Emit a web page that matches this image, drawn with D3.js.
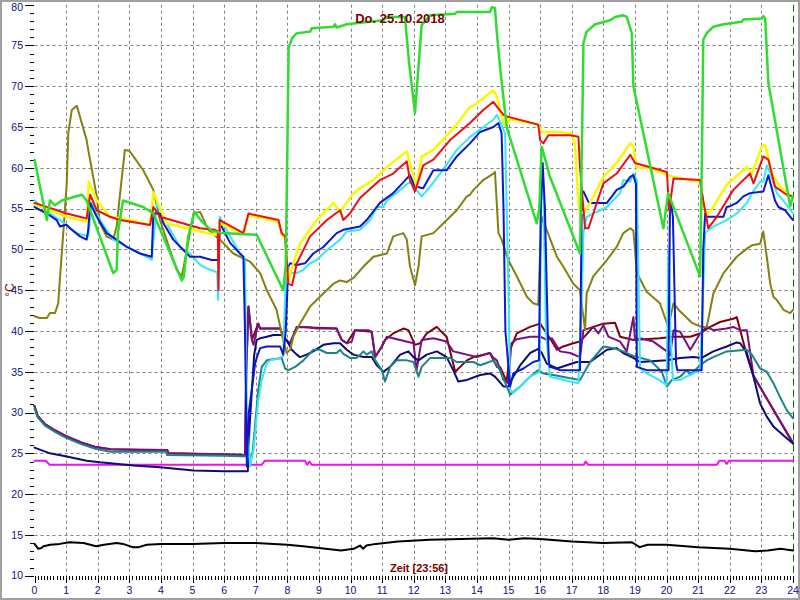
<!DOCTYPE html>
<html><head><meta charset="utf-8">
<script src="https://cdn.jsdelivr.net/npm/d3@7/dist/d3.min.js"></script>
<style>body{margin:0;background:#fff}svg{display:block}</style>
</head><body>
<svg id="c" width="800" height="600"></svg>
<script>
const title = "Do. 25.10.2018";
const xTitle = "Zeit [23:56]";
const yTitle = "°C";
const xTicks = d3.range(0, 25);
const yTicks = d3.range(10, 81, 5);

const green = [[0,61],[0.39,53.6],[0.49,56],[0.65,55.4],[0.86,56],[1.5,56.7],[1.65,56],[2.49,47.1],[2.6,47.5],[2.64,52],[2.8,56],[3.44,55.2],[3.76,54.4],[4.66,46.2],[4.72,46.6],[4.86,51.5],[5.06,54.6],[5.3,53.4],[5.6,52.3],[5.92,52],[7.03,51.8],[7.87,45.0],[7.95,48],[8.0,62],[8.04,74.7],[8.15,75.9],[8.3,76.5],[8.72,76.7],[8.77,77.1],[9.46,77.3],[9.51,77.6],[9.56,77.2],[9.88,77.6],[11.03,78.1],[11.15,78.5],[11.72,78.5],[11.85,73],[12.04,66.7],[12.2,75],[12.25,77.5],[12.52,78.7],[13.31,78.9],[13.36,79.1],[14.41,79.1],[14.47,79.7],[14.57,79.6],[14.63,76.5],[14.73,72.4],[14.94,65],[15.89,53.2],[15.97,55],[16.05,62.6],[16.31,58.9],[17.26,49.5],[17.33,65],[17.37,75.3],[17.47,76.7],[17.74,77.6],[18.21,78.1],[18.37,78.5],[18.63,78.7],[18.74,78.5],[18.9,76.5],[18.95,70],[19.9,52.6],[20.05,56.9],[21.06,46.7],[21.12,62],[21.16,75.7],[21.27,76.5],[21.48,77.3],[21.8,77.6],[22.38,77.9],[22.43,78.2],[23.01,78.3],[23.06,78.6],[23.12,78.3],[23.22,70.4],[23.91,55.3],[24,56.5]];

const yellow = [[0,55.5],[0.5,54.8],[1.02,54.0],[1.65,53.4],[1.72,58.3],[1.97,56],[2.39,54],[3.0,53.6],[3.66,53.0],[3.76,57],[4.18,53.2],[5.24,52.2],[5.71,51.8],[5.81,51.8],[5.87,53.2],[6.61,51.8],[6.77,54.2],[7.72,53.4],[7.82,51.8],[7.93,51.4],[8.03,46],[8.19,48.3],[8.4,50.7],[8.93,53.6],[9.46,55.7],[9.67,54.6],[10.09,56.9],[10.3,57.5],[10.72,58.5],[11.15,60.1],[11.57,61.4],[11.78,62],[11.88,60.6],[12.09,57.7],[12.25,61.4],[12.62,62.2],[13.25,64.8],[13.78,67.5],[13.89,67.6],[14.52,69.5],[14.63,68.7],[14.84,65.5],[14.94,65.0],[15.0,66.0],[15.94,65.3],[16.05,64.4],[16.63,64.4],[17.0,64.2],[17.1,63],[17.21,55.7],[17.26,54.4],[17.4,54.6],[17.58,55.7],[18.0,58.9],[18.42,60.6],[18.85,63],[18.95,62.6],[19.06,60],[19.37,60],[20.0,59.2],[20.2,58.9],[21.06,58.3],[21.16,55.2],[21.32,54.4],[21.48,55.2],[21.9,57.9],[22.54,60.1],[22.7,59.3],[23.01,62.6],[23.12,62.8],[23.33,59.3],[23.59,57.7],[23.91,56.7],[24,56.5]];

const red = [[0,55.7],[1.02,54.4],[1.65,53.8],[1.76,56.7],[1.97,54.8],[2.39,54],[2.71,53.6],[3.66,53],[3.76,55.2],[3.97,54],[5.24,52.6],[5.71,52.4],[5.8,52.2],[5.82,45],[5.86,53.6],[6.61,52],[6.77,54.4],[7.72,53.6],[7.82,52],[7.93,51.6],[8.03,45.8],[8.15,45.6],[8.3,48.3],[8.72,51.6],[9.25,53.6],[9.67,54.8],[9.77,53.6],[9.98,54.4],[10.3,56.3],[10.93,58.5],[11.35,59.3],[11.78,60.8],[11.88,58.5],[12.04,57.1],[12.3,60.3],[12.62,61],[13.15,63.4],[13.78,65.5],[14.2,67.1],[14.52,68.1],[14.63,67.5],[14.84,66.5],[14.94,66.3],[15.94,65.3],[16.0,63.4],[16.1,63],[16.26,64],[16.95,64],[17.21,63.8],[17.26,60.1],[17.42,52.6],[17.53,52.6],[17.68,54.4],[18.0,58.1],[18.42,59.3],[18.85,61.6],[19.0,60.6],[20.01,59.5],[20.08,54.8],[20.22,58.7],[21.06,58.5],[21.16,56],[21.32,52.6],[21.59,54],[22.11,57.3],[22.64,59.3],[22.75,58.1],[23.06,61.4],[23.22,61],[23.43,57.7],[23.8,56.7],[24,56.5]];

const cyan = [[0,56],[0.39,54.6],[0.81,53.6],[1.34,52],[1.7,51.6],[1.81,55.7],[2.07,53.6],[2.49,51.2],[3.13,49.9],[3.55,49.1],[3.71,48.7],[3.87,55.7],[4.18,53.2],[4.6,50.3],[4.92,49.5],[5.24,48.1],[5.55,47.5],[5.78,47.2],[5.81,43.8],[5.86,54],[6.19,51.6],[6.5,49.5],[6.66,48.7],[6.72,30],[6.82,23.4],[6.93,25.4],[7.08,31.5],[7.19,34],[7.35,36],[7.45,36.4],[7.77,36.7],[7.87,37],[7.95,46.5],[8.09,47.1],[8.3,47.1],[8.51,47.5],[8.72,48.3],[8.93,48.7],[9.25,49.9],[9.67,51.2],[9.88,52.2],[10.3,52.4],[10.62,53.6],[10.83,55.2],[11.04,55.2],[11.15,56],[11.57,57.3],[11.88,58.3],[12.04,57.5],[12.25,56.5],[12.52,57.7],[12.83,59.3],[13.15,61],[13.36,62.2],[13.78,63.8],[14.2,65],[14.52,65.9],[14.63,66.5],[14.73,65.7],[14.89,64.2],[14.97,50],[15.05,32.8],[15.15,32.4],[15.37,33.2],[15.68,34.4],[15.98,35],[16.03,57],[16.1,57.5],[16.18,40],[16.31,34.4],[16.53,34.2],[16.95,33.8],[17.21,33.6],[17.3,42],[17.37,52],[17.47,54],[17.68,54.4],[17.9,54.8],[18.11,55.2],[18.53,56.9],[18.63,58.5],[18.85,58.3],[18.95,59.3],[19.06,58.5],[19.12,45],[19.16,35.4],[19.37,34.8],[19.68,34.2],[20.0,33.4],[20.06,50],[20.12,40],[20.2,34],[20.43,34],[20.85,34.8],[21.06,35.2],[21.16,45],[21.22,52],[21.32,52.4],[21.48,52.8],[21.9,53.6],[22.22,54.4],[22.54,55.7],[22.7,56.9],[22.96,58.3],[23.06,58.3],[23.17,60.3],[23.28,59.3],[23.49,56.9],[23.75,55.7],[24,54.4]];

const blue = [[0,55.2],[0.39,54.4],[0.7,53.6],[0.81,52.8],[0.97,53],[1.02,53],[1.12,52.6],[1.44,51.6],[1.65,51.2],[1.7,52.4],[1.76,55.7],[1.97,54],[2.28,52],[2.6,51.2],[2.92,50.3],[3.34,49.5],[3.71,49.1],[3.76,54.4],[3.97,54.4],[4.08,53.2],[4.39,51.2],[4.82,49.5],[4.92,49.1],[5.24,49.1],[5.61,48.7],[5.8,48.7],[5.87,53.2],[6.19,50.8],[6.5,49.5],[6.61,49.1],[6.66,40],[6.72,23.4],[6.78,30],[6.98,36],[7.03,36.7],[7.14,37.9],[7.35,38.1],[7.77,38.1],[7.87,37.1],[7.95,40],[8.03,47.9],[8.09,48.3],[8.3,48.1],[8.56,48.3],[8.82,49.5],[9.14,50.3],[9.56,52],[9.77,52.4],[10.3,52.8],[10.51,53.6],[10.93,55.7],[11.35,56.9],[11.88,59.1],[12.04,57.7],[12.3,57.5],[12.62,59.7],[13.04,59.7],[13.36,61.4],[13.78,63],[14.1,64.4],[14.52,65],[14.68,65.5],[14.78,64.2],[14.84,55],[14.9,40],[15.05,33.2],[15.15,34.8],[15.47,35.4],[15.78,36.2],[15.96,36.4],[16.02,55],[16.08,60.6],[16.15,55],[16.24,40],[16.28,36],[16.31,35.6],[16.63,35.2],[17.26,35.2],[17.32,56.9],[17.37,57.1],[17.53,55.8],[17.58,55.7],[18.11,55.7],[18.27,56.5],[18.42,57.3],[18.63,57.7],[18.85,58.9],[18.95,59.1],[19.03,58],[19.06,35.6],[19.37,35.2],[20.06,35.2],[20.11,56.5],[20.2,54],[20.3,36],[20.34,35.2],[20.85,35.2],[21.11,35.2],[21.16,50],[21.22,54.4],[21.27,54],[21.8,54],[21.9,55.2],[22.01,55.3],[22.22,55.7],[22.43,56.5],[22.64,56.9],[23.06,57.1],[23.22,59.1],[23.43,56],[23.54,55.2],[23.75,54.8],[24,53.6]];

const olive = [[0,41.8],[0.17,41.6],[0.39,41.6],[0.49,42.2],[0.65,42.2],[0.75,43.4],[0.81,46.7],[0.91,52],[1.02,58.1],[1.07,64.3],[1.18,67.1],[1.34,67.6],[1.65,63.4],[1.7,62.2],[1.97,56.5],[2.07,53.2],[2.28,51.6],[2.49,51.2],[2.6,52.8],[2.71,56.9],[2.86,62.2],[3.0,62.1],[3.13,61.4],[3.44,59.7],[3.76,57.3],[3.97,53.6],[4.29,49.9],[4.5,47.5],[4.66,46.7],[4.82,49.9],[5.03,54.4],[5.24,54.6],[5.5,52.4],[5.87,51.2],[6.29,49.5],[6.82,48.5],[7.14,47.1],[7.35,45],[7.66,42.6],[7.82,39.7],[7.98,37.3],[8.09,37.7],[8.19,39.3],[8.4,40.9],[8.72,43],[9.03,44.2],[9.46,45.8],[9.67,46.2],[9.88,46.0],[10.09,46.5],[10.41,47.9],[10.62,48.7],[10.72,49.1],[11.15,49.5],[11.35,51.6],[11.67,52],[11.78,51.2],[11.88,47.9],[12.04,45.6],[12.15,47.9],[12.25,51.6],[12.62,52],[12.94,53.2],[13.36,54.8],[13.68,56.5],[13.78,56.7],[13.89,57.3],[14.2,58.5],[14.52,59.3],[14.57,59.5],[14.68,52],[14.78,51.2],[14.99,48.7],[15.26,46.7],[15.58,44.2],[15.78,43.4],[15.94,43.2],[16.0,50],[16.05,54],[16.53,49.1],[16.73,47.9],[17.05,45.8],[17.26,45],[17.42,40.1],[17.47,44.6],[17.68,46.7],[18.11,48.7],[18.42,50.3],[18.63,52],[18.85,52.6],[18.95,52.3],[19.06,47.1],[19.37,44.8],[19.79,43.4],[20.05,40.5],[20.22,43.4],[20.4,42.5],[20.8,41],[21.1,40.5],[21.27,40.5],[21.38,42.6],[21.48,44.6],[21.8,47.1],[22.22,49.1],[22.54,50.1],[22.7,50.5],[22.96,50.7],[23.06,52.2],[23.17,49.1],[23.28,45.8],[23.38,44.2],[23.49,43.8],[23.7,42.6],[23.91,42.2],[24,42.6]];

const purple = [[0,30.8],[0.1,29.6],[0.33,28.6],[0.66,27.8],[1.0,27.1],[1.5,26.3],[1.9,25.8],[2.4,25.5],[3.3,25.4],[4.2,25.4],[4.25,25.0],[6.0,24.9],[6.66,24.8],[6.7,35],[6.77,43],[6.88,38.9],[6.93,38.3],[7.08,40.9],[7.14,40.3],[7.77,40.3],[7.93,38.9],[8.09,38.5],[8.3,40.5],[8.61,40.5],[8.93,40.3],[9.56,40.3],[9.72,38.9],[9.88,38.5],[10.04,38.7],[10.14,40.1],[10.56,40.1],[10.67,39.9],[10.78,36.8],[10.99,38.1],[11.15,39.3],[11.57,38.9],[11.99,38.5],[12.09,35.2],[12.25,38.9],[12.62,39.1],[13.04,38.7],[13.25,37.5],[13.47,37.3],[13.68,37.1],[13.99,36.8],[14.41,37.3],[14.52,36.7],[14.63,36.4],[14.84,34],[14.99,33.6],[15.09,38.5],[15.26,39],[15.68,39.3],[16.0,39.3],[16.21,38.9],[16.37,39.1],[16.63,37.5],[16.95,37.3],[17.26,36.8],[17.37,40.1],[17.68,40.5],[17.84,39.7],[18.0,40.7],[18.16,39.3],[18.53,38.7],[18.74,37.5],[18.95,41.7],[19.0,38.9],[19.16,39.1],[19.58,38.7],[20.01,37.5],[20.11,37],[20.22,40.1],[20.43,39.9],[20.75,37.7],[21.06,39.7],[21.27,40.5],[21.48,40.1],[21.9,40.3],[22.11,40.5],[22.33,40.1],[22.54,40.1],[22.64,37.5],[22.75,34.5],[24,26.3]];

const maroon = [[0,30.8],[0.1,29.6],[0.33,28.6],[0.66,27.8],[1.0,27.1],[1.5,26.3],[1.9,25.8],[2.4,25.5],[4.2,25.4],[4.25,25.0],[6.66,24.8],[6.7,35],[6.77,43],[6.88,38.9],[7.08,40.9],[7.14,40.3],[7.77,40.3],[7.93,38.9],[8.09,38.5],[8.3,40.5],[9.56,40.3],[9.72,38.9],[9.88,38.5],[10.14,40.1],[10.67,39.9],[10.78,36.8],[10.99,38.1],[11.09,38.9],[11.35,39.7],[11.67,40.3],[11.83,40.1],[12.04,38.3],[12.2,38.5],[12.41,39.7],[12.73,40.5],[12.83,40.1],[13.04,39.3],[13.31,35],[13.47,35.6],[13.68,36.4],[13.89,36.8],[14.2,37.1],[14.41,37.3],[14.63,35.6],[14.73,35.6],[14.94,33.8],[15.05,37.7],[15.26,39.7],[15.68,40.5],[16.0,40.9],[16.1,40.3],[16.31,39.1],[16.53,37.7],[16.73,38.1],[17.05,38.5],[17.26,38.7],[17.68,40.5],[18.0,40.9],[18.37,41],[18.53,39.3],[18.95,38.9],[19.79,39.1],[20.22,39.3],[20.75,39.3],[21.06,39.7],[21.38,40.5],[21.69,41.1],[22.11,41.5],[22.22,41.7],[22.33,40.1],[22.54,37],[22.75,34.5],[24,26.2]];

const navy = [[0,25.7],[0.49,25],[1.02,24.6],[1.65,24.1],[2.07,23.9],[3.13,23.5],[3.97,23.3],[5.03,22.9],[6.0,22.8],[6.75,22.8],[6.8,28],[6.95,37],[7.03,38.9],[7.14,39.1],[7.35,39.3],[7.56,39.5],[7.82,39.5],[7.98,38.9],[8.14,37.7],[8.3,37.1],[8.4,36.8],[8.61,37.1],[8.82,37.5],[9.14,38.3],[9.46,38.5],[9.67,38.5],[9.88,37.7],[10.09,37.1],[10.41,36.8],[10.67,36.8],[10.83,35.8],[11.04,35],[11.25,35.6],[11.57,37.1],[11.83,37.5],[11.99,36.8],[12.15,36.4],[12.41,37.1],[12.73,37.5],[13.04,36.8],[13.25,35.2],[13.41,33.8],[13.68,34],[14.1,34.6],[14.41,34.8],[14.57,34.4],[14.84,33.2],[14.99,33.2],[15.15,34.4],[15.37,35.8],[15.68,37.3],[15.94,37.8],[16.05,37.3],[16.21,36],[16.53,35.4],[16.84,35.8],[17.16,36.2],[17.58,36.2],[18.11,37.7],[18.42,37.9],[18.63,37.3],[18.95,36.7],[19.16,36.2],[20.01,36.4],[20.43,36.7],[20.85,36.8],[21.11,36.7],[21.48,37.5],[21.9,38.1],[22.22,38.6],[22.33,38.5],[22.54,37.3],[22.75,34.4],[22.96,31.1],[23.17,29.5],[23.38,28.3],[23.7,27.2],[24,26.2]];

const teal = [[0,30.5],[0.1,29.4],[0.33,28.4],[0.66,27.6],[1.0,26.9],[1.5,26.1],[1.9,25.6],[2.4,25.2],[4.15,25.2],[4.2,24.8],[6.0,24.7],[6.82,24.6],[6.9,25],[7.08,32.8],[7.19,35.6],[7.35,36.4],[7.82,36.7],[7.93,35.4],[8.03,35.2],[8.25,35.6],[8.51,36.4],[8.82,37.7],[9.03,37.7],[9.25,37.3],[9.56,37.3],[9.67,37.7],[9.77,37.2],[9.98,36.7],[10.19,36.7],[10.41,37.5],[10.51,37.1],[10.67,37.5],[10.78,36.4],[10.99,35.2],[11.09,33.8],[11.25,35.6],[11.46,36.4],[11.78,36.4],[11.99,36.2],[12.15,34.4],[12.25,35.6],[12.52,36.7],[13.15,36.7],[13.36,36.2],[13.89,36.2],[14.1,35.8],[14.52,36.4],[14.73,35.2],[15.05,32.2],[15.37,33.2],[15.68,34.4],[15.94,35.2],[16.1,34.8],[16.42,34.6],[16.95,34.2],[17.26,34],[17.58,36.2],[18.0,38.1],[18.32,37.9],[18.63,37.5],[18.85,37.1],[19.06,36.8],[19.48,36.4],[19.85,35],[20.01,33.2],[20.17,34],[20.43,34.4],[20.64,35.2],[20.75,34.6],[21.06,35.8],[21.27,36.4],[21.48,36.8],[21.9,37.5],[22.54,37.7],[22.7,37.1],[22.96,35.4],[23.17,35],[23.38,33.6],[23.59,31.9],[23.8,30.3],[23.96,29.5],[24,29.3]];

const magenta = [[0,24.1],[0.35,24.1],[0.48,23.6],[7.19,23.6],[7.29,24.1],[8.56,24.1],[8.63,23.6],[8.7,24.0],[8.77,23.6],[17.38,23.6],[17.44,24.0],[17.52,23.6],[21.59,23.6],[21.67,24.1],[21.83,24.1],[21.9,23.7],[21.98,24.1],[24,24.1]];

const black = [[0,13.9],[0.12,13.3],[0.22,13.4],[0.28,13.6],[0.5,13.8],[0.8,13.9],[1.1,14.1],[1.55,14.0],[1.95,13.6],[2.2,13.8],[2.6,14.0],[2.8,13.9],[3.1,13.5],[3.3,13.5],[3.55,13.8],[4.0,13.9],[5.0,13.9],[6.0,14.0],[7.0,14.0],[8.0,13.8],[8.5,13.6],[9.0,13.4],[9.7,13.1],[10.1,13.3],[10.3,13.7],[10.4,13.3],[10.5,13.7],[10.8,13.9],[11.5,14.2],[12.5,14.4],[13.5,14.5],[14.5,14.6],[15.0,14.4],[15.5,14.6],[16.0,14.5],[17.0,14.2],[18.0,14.0],[18.9,14.1],[19.15,13.5],[19.4,13.8],[20.0,13.8],[21.0,13.5],[22.0,13.3],[22.8,13.0],[23.2,13.1],[23.6,13.3],[24,13.1]];

const series = [
  {d: black, c: "#000000", w: 2},
  {d: magenta, c: "#ee10ee", w: 2},
  {d: maroon, c: "#800010", w: 2},
  {d: purple, c: "#7a1080", w: 2},
  {d: navy, c: "#0c0c78", w: 2},
  {d: teal, c: "#1a8585", w: 2},
  {d: olive, c: "#858010", w: 2},
  {d: cyan, c: "#33e8f4", w: 2},
  {d: blue, c: "#0a18d4", w: 2},
  {d: yellow, c: "#f8f800", w: 2.5},
  {d: red, c: "#ee1010", w: 2},
  {d: green, c: "#30dc30", w: 2.5}
];

const svg = d3.select("#c");
const x = d3.scaleLinear().domain([0, 24]).range([34.5, 793]);
const y = d3.scaleLinear().domain([10, 80]).range([575.7, 4.7]);

svg.append("rect").attr("x", 1).attr("y", 1).attr("width", 798).attr("height", 598)
  .attr("fill", "#fff").attr("stroke", "#a0a0a0").attr("stroke-width", 2);

// grid
svg.append("g").selectAll("line").data(d3.range(15, 80, 5)).join("line")
  .attr("x1", x(0)).attr("x2", x(24)).attr("y1", d => Math.round(y(d)) + 0.5).attr("y2", d => Math.round(y(d)) + 0.5)
  .attr("stroke", "#808080").attr("stroke-dasharray", "3,3");
svg.append("g").selectAll("line").data(d3.range(1, 24)).join("line")
  .attr("y1", y(80)).attr("y2", y(10)).attr("x1", d => Math.round(x(d)) + 0.5).attr("x2", d => Math.round(x(d)) + 0.5)
  .attr("stroke", "#808080").attr("stroke-dasharray", "3,3");
svg.append("line").attr("x1", Math.round(x(24)) + 0.5).attr("x2", Math.round(x(24)) + 0.5)
  .attr("y1", y(80)).attr("y2", y(10)).attr("stroke", "#006a00").attr("stroke-dasharray", "7,4");

// y ticks
svg.append("g").selectAll("line").data(d3.range(10, 81, 1)).join("line")
  .attr("x1", d => d % 5 === 0 ? 25 : 30).attr("x2", 34)
  .attr("y1", d => Math.round(y(d)) + 0.5).attr("y2", d => Math.round(y(d)) + 0.5)
  .attr("stroke", "#000");
svg.append("g").selectAll("text").data(yTicks).join("text")
  .attr("x", 23).attr("y", d => Math.max(y(d), 7.5)).attr("dy", "0.36em").attr("text-anchor", "end")
  .attr("font-family", "Liberation Sans, Arial, sans-serif").attr("font-size", 10.5).attr("fill", "#10107a")
  .text(d => d);

// x ticks
svg.append("g").selectAll("line").data(d3.range(0, 241)).join("line")
  .attr("x1", d => Math.round(x(d / 10)) + 0.5).attr("x2", d => Math.round(x(d / 10)) + 0.5)
  .attr("y1", 576).attr("y2", d => d % 10 === 0 ? 583 : 580)
  .attr("stroke", "#000");
svg.append("g").selectAll("text").data(xTicks).join("text")
  .attr("x", d => x(d)).attr("y", 594).attr("text-anchor", "middle")
  .attr("font-family", "Liberation Sans, Arial, sans-serif").attr("font-size", 10.5).attr("fill", "#10107a")
  .text(d => d);

// lines
const line = d3.line().x(d => x(d[0])).y(d => y(d[1]));
const lg = svg.append("g").attr("fill", "none").attr("stroke-linejoin", "round").attr("stroke-linecap", "round");
series.forEach(s => {
  lg.append("path").attr("d", line(s.d)).attr("stroke", s.c).attr("stroke-width", s.w);
});

// titles
svg.append("text").attr("x", 400).attr("y", 23).attr("text-anchor", "middle")
  .attr("font-family", "Liberation Sans, Arial, sans-serif").attr("font-weight", "bold").attr("font-size", 13)
  .attr("fill", "#7a0000").text(title);
svg.append("text").attr("x", 419).attr("y", 572).attr("text-anchor", "middle")
  .attr("font-family", "Liberation Sans, Arial, sans-serif").attr("font-weight", "bold").attr("font-size", 11)
  .attr("fill", "#7a0000").text(xTitle);
svg.append("text").attr("transform", "translate(14,290) rotate(-90)").attr("text-anchor", "middle")
  .attr("font-family", "Liberation Sans, Arial, sans-serif").attr("font-size", 12)
  .attr("fill", "#7a0000").text(yTitle);
</script>
</body></html>
